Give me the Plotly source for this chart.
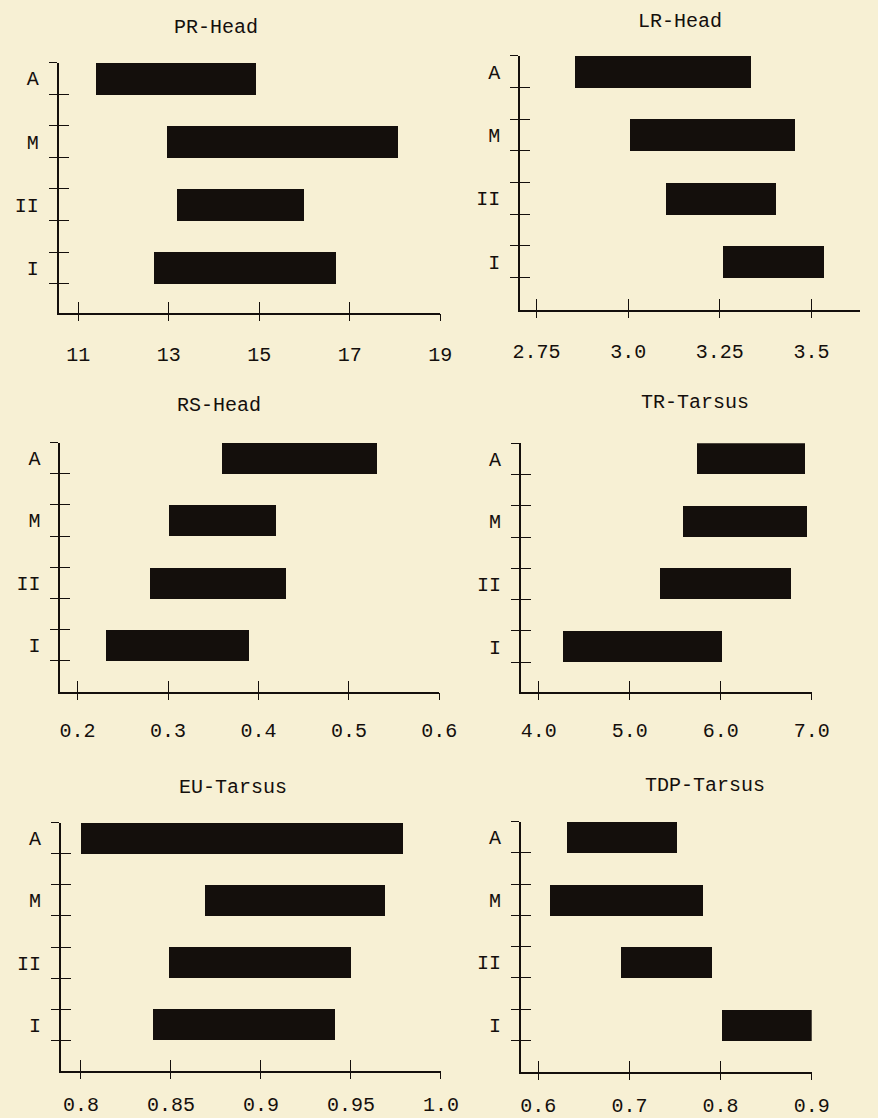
import plotly.graph_objects as go

# ---------------- data ----------------
categories = ["A", "M", "II", "I"]
cat_pos = [3, 2, 1, 0]

panel_titles = ["PR-Head", "LR-Head", "RS-Head", "TR-Tarsus", "EU-Tarsus", "TDP-Tarsus"]

pr_start = [11.38, 12.95, 13.17, 12.68]
pr_end = [14.93, 18.05, 15.98, 16.68]
lr_start = [2.855, 3.005, 3.105, 3.26]
lr_end = [3.335, 3.455, 3.405, 3.535]
rs_start = [0.360, 0.301, 0.280, 0.232]
rs_end = [0.531, 0.420, 0.431, 0.390]
tr_start = [5.74, 5.58, 5.33, 4.27]
tr_end = [6.93, 6.95, 6.77, 6.01]
eu_start = [0.800, 0.869, 0.849, 0.840]
eu_end = [0.979, 0.969, 0.950, 0.941]
tdp_start = [0.632, 0.613, 0.691, 0.801]
tdp_end = [0.752, 0.781, 0.790, 0.900]

pr_ticks = [11, 13, 15, 17, 19]
pr_ticktext = ["11", "13", "15", "17", "19"]
lr_ticks = [2.75, 3.0, 3.25, 3.5]
lr_ticktext = ["2.75", "3.0", "3.25", "3.5"]
rs_ticks = [0.2, 0.3, 0.4, 0.5, 0.6]
rs_ticktext = ["0.2", "0.3", "0.4", "0.5", "0.6"]
tr_ticks = [4.0, 5.0, 6.0, 7.0]
tr_ticktext = ["4.0", "5.0", "6.0", "7.0"]
eu_ticks = [0.8, 0.85, 0.9, 0.95, 1.0]
eu_ticktext = ["0.8", "0.85", "0.9", "0.95", "1.0"]
tdp_ticks = [0.6, 0.7, 0.8, 0.9]
tdp_ticktext = ["0.6", "0.7", "0.8", "0.9"]

starts = [pr_start, lr_start, rs_start, tr_start, eu_start, tdp_start]
ends = [pr_end, lr_end, rs_end, tr_end, eu_end, tdp_end]
ticks = [pr_ticks, lr_ticks, rs_ticks, tr_ticks, eu_ticks, tdp_ticks]
ticktexts = [pr_ticktext, lr_ticktext, rs_ticktext, tr_ticktext, eu_ticktext, tdp_ticktext]

# ---------------- layout / style ----------------
W, H = 878, 1118
BG = "#f7f0d4"
INK = "#140f0c"
FONT = "Liberation Mono, DejaVu Sans Mono, monospace"
FS = 20
BAR_W = 0.5

# pixel boxes of each plotting area: (left, right, top, bottom)
boxes = [
    (53.3, 446.0, 63.0, 315.0),
    (528.3, 878.0, 56.0, 311.7),
    (55.0, 445.0, 445.0, 696.0),
    (529.0, 828.3, 445.7, 696.0),
    (55.7, 446.7, 827.3, 1077.0),
    (529.0, 828.3, 826.0, 1078.0),
]
xranges = [
    (10.57, 19.0),
    (2.706, 3.632),
    (0.181, 0.6),
    (3.805, 7.0),
    (0.789, 1.0),
    (0.581, 0.9),
]
ybottoms = [-0.72, -0.76, -0.76, -0.73, -0.75, -0.76]
label_standoff = [22, 22, 19, 19, 14, 14]
title_pos = [(215, 28), (693, 22), (218, 408), (708, 405), (233, 792), (718, 790)]

fig = go.Figure()
layout = dict(
    width=W, height=H,
    paper_bgcolor=BG, plot_bgcolor=BG,
    margin=dict(l=0, r=0, t=0, b=0),
    showlegend=False,
    font=dict(family=FONT, size=FS, color=INK),
)

annotations = []
n = len(panel_titles)
for i in range(n):
    k = i + 1
    xa = "x" if k == 1 else f"x{k}"
    ya = "y" if k == 1 else f"y{k}"
    xo = f"x{k + n}"
    yo1 = f"y{k + n}"
    yo2 = f"y{k + 2 * n}"
    left, right, top, bottom = boxes[i]
    xdom = [left / W, right / W]
    ydom = [1 - bottom / H, 1 - top / H]
    yr = [ybottoms[i], 3 + BAR_W / 2]

    widths = [e - s for s, e in zip(starts[i], ends[i])]
    fig.add_trace(go.Bar(
        x=widths, base=starts[i], y=cat_pos, orientation="h",
        width=BAR_W, marker=dict(color=INK, line=dict(width=0)),
        xaxis=xa, yaxis=ya, hoverinfo="skip",
    ))
    # empty traces so the overlay axes (tick crosses, labels) get drawn
    for yy in (yo1, yo2):
        fig.add_trace(go.Scatter(x=[None], y=[None], mode="markers",
                                 xaxis=xo, yaxis=yy, hoverinfo="skip"))

    edges = []
    for p in cat_pos:
        edges += [p - BAR_W / 2, p + BAR_W / 2]

    # main x axis: line + upward ticks + labels
    layout[f"xaxis{'' if k == 1 else k}"] = dict(
        domain=xdom, anchor=ya, range=list(xranges[i]),
        showline=True, linecolor=INK, linewidth=2,
        showgrid=False, zeroline=False,
        tickmode="array", tickvals=ticks[i], ticktext=ticktexts[i],
        ticks="inside", ticklen=11, tickwidth=1.3, tickcolor=INK,
        ticklabelstandoff=label_standoff[i],
        tickfont=dict(family=FONT, size=FS, color=INK),
        fixedrange=True,
    )
    # overlay x axis: downward part of the tick crosses
    layout[f"xaxis{k + n}"] = dict(
        domain=xdom, anchor=ya, overlaying=xa, range=list(xranges[i]),
        showline=False, showgrid=False, zeroline=False,
        tickmode="array", tickvals=ticks[i], showticklabels=False,
        ticks="outside", ticklen=7, tickwidth=1.3, tickcolor=INK,
        fixedrange=True,
    )
    # main y axis: line + leftward ticks at bar edges
    layout[f"yaxis{'' if k == 1 else k}"] = dict(
        domain=ydom, anchor=xa, range=yr,
        showline=True, linecolor=INK, linewidth=2,
        showgrid=False, zeroline=False,
        tickmode="array", tickvals=edges, showticklabels=False,
        ticks="outside", ticklen=8, tickwidth=1.3, tickcolor=INK,
        fixedrange=True,
    )
    # overlay y axis: rightward part of the tick crosses
    layout[f"yaxis{k + n}"] = dict(
        domain=ydom, anchor=xa, overlaying=ya, range=yr,
        showline=False, showgrid=False, zeroline=False,
        tickmode="array", tickvals=edges, showticklabels=False,
        ticks="inside", ticklen=10, tickwidth=1.3, tickcolor=INK,
        fixedrange=True,
    )
    # overlay y axis: category labels
    layout[f"yaxis{k + 2 * n}"] = dict(
        domain=ydom, anchor=xa, overlaying=ya, range=yr,
        showline=False, showgrid=False, zeroline=False,
        tickmode="array", tickvals=cat_pos, ticktext=categories,
        ticks="", ticklabelstandoff=19,
        tickfont=dict(family=FONT, size=FS, color=INK),
        fixedrange=True,
    )

    tx, ty = title_pos[i]
    annotations.append(dict(
        text=panel_titles[i], x=tx / W, y=1 - ty / H,
        xref="paper", yref="paper", xanchor="center", yanchor="middle",
        showarrow=False, font=dict(family=FONT, size=FS, color=INK),
    ))

layout["annotations"] = annotations
layout["bargap"] = 0
fig.update_layout(**layout)

fig.write_html(
    "out.html",
    config={"displayModeBar": False},
    post_script=(
        "document.body.style.margin='0';"
        "document.body.style.padding='0';"
        f"document.body.style.background='{BG}';"
    ),
)
